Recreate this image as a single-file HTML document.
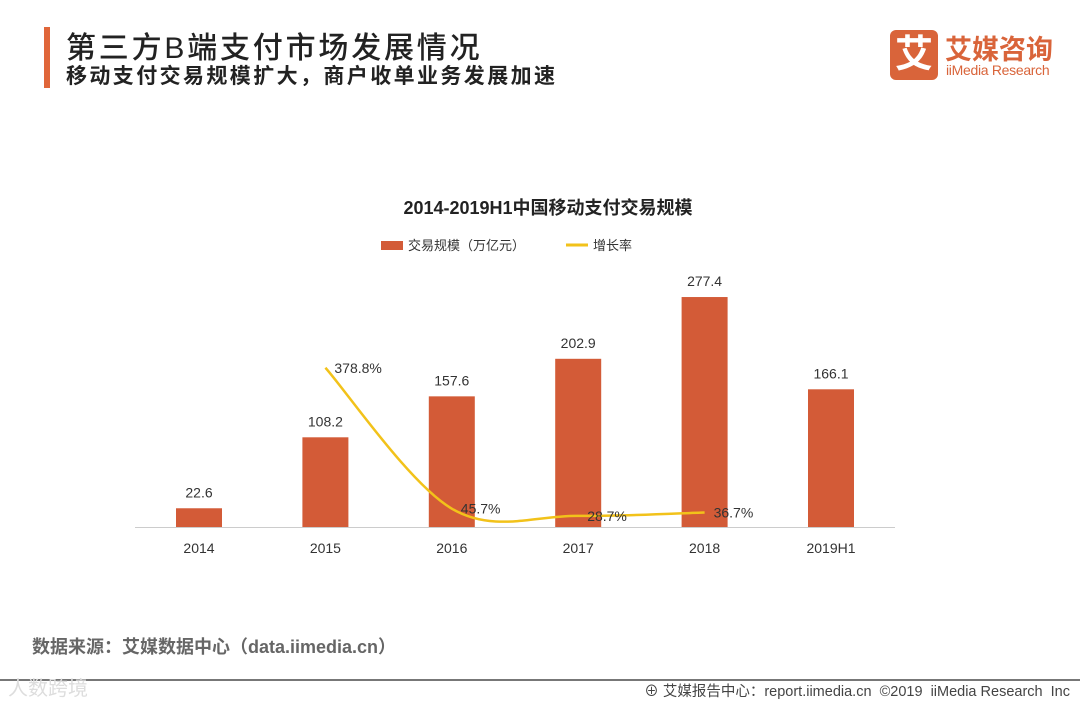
<!DOCTYPE html>
<html><head><meta charset="utf-8">
<style>
body{margin:0;width:1080px;height:702px;background:#fff;overflow:hidden;position:relative;font-family:"Liberation Sans","Noto Sans CJK SC",sans-serif}
.abs{position:absolute;white-space:nowrap}
</style></head><body>
<div class="abs" style="left:44px;top:27px;width:6px;height:61px;background:#e0663a"></div>
<div class="abs" style="left:66px;top:23px;font-size:30px;color:#222;font-weight:500;letter-spacing:2.8px">第三方B端支付市场发展情况</div>
<div class="abs" style="left:66px;top:60px;font-size:21px;color:#222;font-weight:bold;letter-spacing:2.4px">移动支付交易规模扩大，商户收单业务发展加速</div>
<div class="abs" style="left:890px;top:30px;width:48px;height:50px;background:#d9643a;border-radius:6px;color:#fff;font-size:38px;line-height:50px;text-align:center;font-weight:bold">艾</div>
<div class="abs" style="left:945px;top:28px;font-size:27px;color:#d9643a;font-weight:bold">艾媒咨询</div>
<div class="abs" style="left:946px;top:62px;font-size:14px;color:#d9643a;letter-spacing:-0.3px">iiMedia Research</div>

<svg class="abs" style="left:0;top:0" width="1080" height="702">
<text x="548" y="214" text-anchor="middle" font-size="18" font-weight="bold" fill="#222">2014-2019H1中国移动支付交易规模</text>
<g>
<rect x="381" y="241" width="22" height="9" fill="#d35b37"/>
<text x="408" y="250" font-size="13" fill="#333">交易规模（万亿元）</text>
<line x1="566" y1="245" x2="588" y2="245" stroke="#f2c21a" stroke-width="3"/>
<text x="593" y="250" font-size="13" fill="#333">增长率</text>
</g>
<line x1="135" y1="527.5" x2="895" y2="527.5" stroke="#ccc"/>
<g id="bars"></g><g id="line"></g><g id="labels"></g>
</svg>

<div class="abs" style="left:32px;top:633px;font-size:18px;color:#666;font-weight:bold">数据来源：艾媒数据中心（data.iimedia.cn）</div>
<div class="abs" style="left:0;top:679px;width:1080px;height:2px;background:#777"></div>
<div class="abs" style="left:8px;top:672px;font-size:20px;color:#ddd">人数跨境</div>
<div class="abs" style="right:10px;top:680px;font-size:14.5px;color:#444">⊕ 艾媒报告中心：report.iimedia.cn &nbsp;©2019 &nbsp;iiMedia Research &nbsp;Inc</div>

<script>
const categories=["2014","2015","2016","2017","2018","2019H1"];
const volumes=[22.6,108.2,157.6,202.9,277.4,166.1];
const growthCats=["2015","2016","2017","2018"];
const growth=[378.8,45.7,28.7,36.7];
const NS="http://www.w3.org/2000/svg";
const x0=199,step=126.4,base=527;
function xPos(i){return x0+i*step;}
function yBar(v){return base-v*0.829;}
function yLine(v){return 528-v*0.423;}
function mk(tag,attrs,parent){const e=document.createElementNS(NS,tag);for(const k in attrs)e.setAttribute(k,attrs[k]);document.getElementById(parent).appendChild(e);return e;}
categories.forEach((c,i)=>{
 const x=xPos(i),y=yBar(volumes[i]);
 const r=mk('rect',{x:x-23,y:y,width:46,height:base-y,fill:'#d35b37'},'bars');
 
 
 const t=mk('text',{x:x,y:y-11,'text-anchor':'middle','font-size':14,fill:'#333'},'labels');t.textContent=volumes[i].toFixed(1);
 
 
 const xl=mk('text',{x:x,y:553,'text-anchor':'middle','font-size':14,fill:'#333'},'labels');xl.textContent=c;
 
 
});
const pts=growthCats.map((c,i)=>[xPos(categories.indexOf(c)),yLine(growth[i])]);
let d='M'+pts[0][0]+','+pts[0][1];
for(let i=0;i<pts.length-1;i++){
 const p0=pts[Math.max(0,i-1)],p1=pts[i],p2=pts[i+1],p3=pts[Math.min(pts.length-1,i+2)];
 const t=0.5/3*2;
 const c1=[p1[0]+(p2[0]-p0[0])*t/2,p1[1]+(p2[1]-p0[1])*t/2];
 const c2=[p2[0]-(p3[0]-p1[0])*t/2,p2[1]-(p3[1]-p1[1])*t/2];
 d+=' C'+c1+' '+c2+' '+p2;
}
const path=mk('path',{d:d,fill:'none',stroke:'#f2c21a','stroke-width':2.5},'line');


pts.forEach((p,i)=>{
 const t=mk('text',{x:p[0]+9,y:p[1]+5,'font-size':14,fill:'#333'},'labels');t.textContent=growth[i].toFixed(1)+'%';
 
 
});
</script>
</body></html>
